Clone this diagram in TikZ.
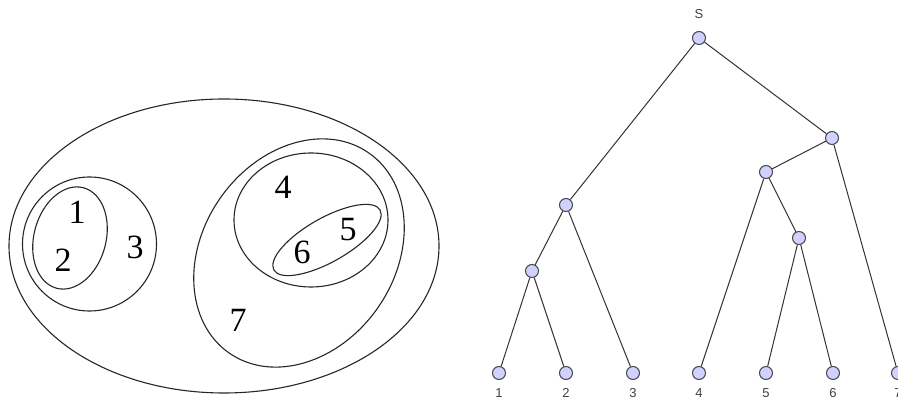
\documentclass[tikz,border=0pt]{standalone}
\usepackage{fontspec}
\setmainfont{Liberation Serif}
\newfontfamily\treefont{Liberation Sans}
\begin{document}
\begin{tikzpicture}[x=1pt,y=1pt,
  setline/.style={draw=black!85, line width=1.1pt},
  setlabel/.style={font=\fontsize{34}{34}\selectfont, inner sep=0pt},
  tnode/.style={circle, draw=black!72, fill=blue!18!white, line width=1pt, minimum size=13pt, inner sep=0pt},
  tedge/.style={draw=black!80, line width=1pt},
  tlabel/.style={font=\treefont\fontsize{13}{13}\selectfont, text=black!75, inner sep=0pt}]
\useasboundingbox (0,0) rectangle (898,401);
% --- nested sets ---
\draw[setline] (224,155) ellipse [x radius=215, y radius=147];
\draw[setline] (89.5,157) circle [radius=67];
\draw[setline, rotate around={-15:(70,163)}] (70,163) ellipse [x radius=36, y radius=52];
\draw[setline, rotate around={55:(299,148)}] (299,148) ellipse [x radius=122, y radius=96];
\draw[setline] (311,181) ellipse [x radius=77, y radius=67];
\draw[setline, rotate around={29.5:(327,161)}] (327,161) ellipse [x radius=61, y radius=22];
\node[setlabel] (s1) at (77,189) {1};
\node[setlabel] (s2) at (63,141) {2};
\node[setlabel] (s3) at (135,154) {3};
\node[setlabel] (s4) at (283,214) {4};
\node[setlabel] (s5) at (348,171) {5};
\node[setlabel] (s6) at (302,149) {6};
\node[setlabel] (s7) at (238,81) {7};
% --- tree ---
\node[tnode] (root) at (699,363) {};
\node[tlabel] (rootlab) at (699,387) {S};
\node[tnode] (r) at (832,263) {};
\node[tnode] (l) at (566,196) {};
\node[tnode] (ll) at (532,130) {};
\node[tnode] (rl) at (766,229) {};
\node[tnode] (rlr) at (799,163) {};
\foreach \i/\x in {1/499,2/566,3/633,4/699,5/766,6/833,7/898}{
  \node[tnode] (leaf\i) at (\x,28) {};
  \node[tlabel] (lab\i) at (\x,8) {\i};
}
\draw[tedge] (root) -- (l);
\draw[tedge] (root) -- (r);
\draw[tedge] (l) -- (ll);
\draw[tedge] (l) -- (leaf3);
\draw[tedge] (ll) -- (leaf1);
\draw[tedge] (ll) -- (leaf2);
\draw[tedge] (r) -- (rl);
\draw[tedge] (r) -- (leaf7);
\draw[tedge] (rl) -- (leaf4);
\draw[tedge] (rl) -- (rlr);
\draw[tedge] (rlr) -- (leaf5);
\draw[tedge] (rlr) -- (leaf6);
\end{tikzpicture}
\end{document}
